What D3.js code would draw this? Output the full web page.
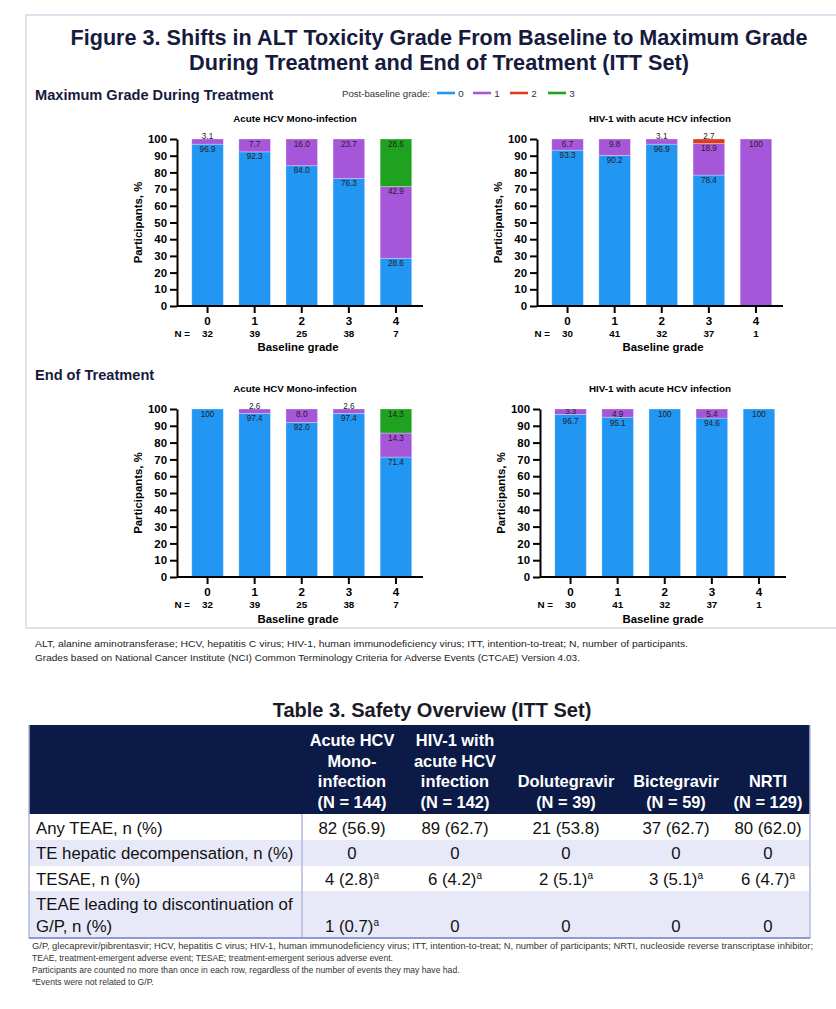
<!DOCTYPE html>
<html><head><meta charset="utf-8">
<script src="https://cdn.jsdelivr.net/npm/d3@7"></script>
<style>body{margin:0;background:#fff;} svg{display:block;}</style>
</head><body>
<svg id="c" width="836" height="1009"></svg>
<script>
// ---------------- DATA ----------------
const baselineGrades = ["0", "1", "2", "3", "4"];
const postGrades = ["0", "1", "2", "3"];
const yTicks = [0, 10, 20, 30, 40, 50, 60, 70, 80, 90, 100];
const nMono = [32, 39, 25, 38, 7];
const nHiv = [30, 41, 32, 37, 1];

// Maximum grade during treatment – Acute HCV mono-infection (% by post-baseline grade)
const maxMonoG0 = [96.9, 92.3, 84.0, 76.3, 28.6];
const maxMonoG1 = [3.1, 7.7, 16.0, 23.7, 42.9];
const maxMonoG2 = [0, 0, 0, 0, 0];
const maxMonoG3 = [0, 0, 0, 0, 28.6];
// Maximum grade during treatment – HIV-1 with acute HCV infection
const maxHivG0 = [93.3, 90.2, 96.9, 78.4, 0];
const maxHivG1 = [6.7, 9.8, 3.1, 18.9, 100];
const maxHivG2 = [0, 0, 0, 2.7, 0];
const maxHivG3 = [0, 0, 0, 0, 0];
// End of treatment – Acute HCV mono-infection
const eotMonoG0 = [100, 97.4, 92.0, 97.4, 71.4];
const eotMonoG1 = [0, 2.6, 8.0, 2.6, 14.3];
const eotMonoG2 = [0, 0, 0, 0, 0];
const eotMonoG3 = [0, 0, 0, 0, 14.3];
// End of treatment – HIV-1 with acute HCV infection
const eotHivG0 = [96.7, 95.1, 100, 94.6, 100];
const eotHivG1 = [3.3, 4.9, 0, 5.4, 0];
const eotHivG2 = [0, 0, 0, 0, 0];
const eotHivG3 = [0, 0, 0, 0, 0];

// Table 3
const tableGroups = ["Acute HCV Mono-infection", "HIV-1 with acute HCV infection", "Dolutegravir", "Bictegravir", "NRTI"];
const tableN = [144, 142, 39, 59, 129];
const rowLabels = ["Any TEAE, n (%)", "TE hepatic decompensation, n (%)", "TESAE, n (%)", "TEAE leading to discontinuation of G/P, n (%)"];
const anyTeaeN = [82, 89, 21, 37, 80];
const anyTeaePct = [56.9, 62.7, 53.8, 62.7, 62.0];
const hepDecompN = [0, 0, 0, 0, 0];
const tesaeN = [4, 6, 2, 3, 6];
const tesaePct = [2.8, 4.2, 5.1, 5.1, 4.7];
const discN = [1, 0, 0, 0, 0];
const discPct = [0.7, 0, 0, 0, 0];

// ---------------- STYLE / LAYOUT ----------------
const SANS = "'Liberation Sans', Arial, Helvetica, sans-serif";
const NAVY = "#161b3e";
const color = d3.scaleOrdinal().domain(postGrades).range(["#2196f3", "#a656d8", "#e0391c", "#1fa21f"]);
const svg = d3.select("#c").attr("font-family", SANS);

// figure frame
svg.append("path").attr("d", "M836,15H26V628H836").attr("fill", "none")
  .attr("stroke", "#d5d8ea").attr("stroke-width", 1.5);

// title
const titleLines = ["Figure 3. Shifts in ALT Toxicity Grade From Baseline to Maximum Grade",
                    "During Treatment and End of Treatment (ITT Set)"];
const titleW = [737, 500];
svg.selectAll("text.title").data(titleLines).join("text").attr("class", "title")
  .attr("x", 439).attr("y", (d, i) => 44.5 + i * 25).attr("text-anchor", "middle")
  .attr("font-size", 21.5).attr("font-weight", "bold").attr("fill", NAVY)
  .attr("textLength", (d, i) => titleW[i]).attr("lengthAdjust", "spacingAndGlyphs")
  .text(d => d);

// section headings
[["Maximum Grade During Treatment", 100], ["End of Treatment", 380]].forEach(([t, yy]) => {
  svg.append("text").attr("x", 35).attr("y", yy).attr("font-size", 14.6)
    .attr("font-weight", "bold").attr("fill", NAVY).text(t);
});

// legend
const legX = [437, 473, 510, 548];
const legend = svg.append("g");
legend.append("text").attr("x", 342).attr("y", 96.5).attr("font-size", 9.6).attr("fill", "#333")
  .text("Post-baseline grade:");
postGrades.forEach((k, i) => {
  legend.append("line").attr("x1", legX[i]).attr("x2", legX[i] + 18).attr("y1", 93).attr("y2", 93)
    .attr("stroke", color(k)).attr("stroke-width", 2.6);
  legend.append("text").attr("x", legX[i] + 24).attr("y", 96.8).attr("text-anchor", "middle")
    .attr("font-size", 9.8).attr("fill", "#333").text(k);
});

// panels
const panels = [
  {ax: 177, yTop: 139, yBot: 306, series: [maxMonoG0, maxMonoG1, maxMonoG2, maxMonoG3], ns: nMono,
   subtitle: "Acute HCV Mono-infection", subX: 295, subY: 121.5, nY: 336.5, btX: 298, btY: 350.5},
  {ax: 537, yTop: 139, yBot: 306, series: [maxHivG0, maxHivG1, maxHivG2, maxHivG3], ns: nHiv,
   subtitle: "HIV-1 with acute HCV infection", subX: 660, subY: 121.5, nY: 336.5, btX: 663, btY: 350.5},
  {ax: 177, yTop: 409, yBot: 577, series: [eotMonoG0, eotMonoG1, eotMonoG2, eotMonoG3], ns: nMono,
   subtitle: "Acute HCV Mono-infection", subX: 295, subY: 391.5, nY: 607.5, btX: 298, btY: 623},
  {ax: 540, yTop: 409, yBot: 577, series: [eotHivG0, eotHivG1, eotHivG2, eotHivG3], ns: nHiv,
   subtitle: "HIV-1 with acute HCV infection", subX: 660, subY: 391.5, nY: 607.5, btX: 663, btY: 623}
];

panels.forEach(cfg => {
  const g = svg.append("g");
  const x = d3.scaleBand().domain(baselineGrades).range([cfg.ax + 7, cfg.ax + 242.5])
    .paddingInner(0.33).paddingOuter(0.165);
  const y = d3.scaleLinear().domain([0, 100]).range([cfg.yBot, cfg.yTop]).clamp(true);
  const rows = baselineGrades.map((b, i) => {
    const r = {base: b};
    postGrades.forEach((k, j) => r[k] = cfg.series[j][i]);
    return r;
  });
  const stacked = d3.stack().keys(postGrades)(rows);

  g.selectAll("g.layer").data(stacked).join("g").attr("class", "layer")
    .attr("fill", d => color(d.key))
    .selectAll("rect").data(d => d.filter(s => s[1] - s[0] > 0.001)).join("rect")
    .attr("x", d => x(d.data.base)).attr("width", x.bandwidth())
    .attr("y", d => y(d[1])).attr("height", d => y(d[0]) - y(d[1]))
    .attr("stroke", "#ffffff").attr("stroke-opacity", 0.35).attr("stroke-width", 0.8);

  // value labels: tiny top segments above the bar, others just inside the segment top
  const segs = [];
  baselineGrades.forEach((b, i) => {
    const inside = [];
    stacked.forEach((layer, j) => {
      const v = cfg.series[j][i];
      if (v <= 0) return;
      const top = Math.min(layer[i][1], 100);
      if (v < 3.2) segs.push({b, v, ly: y(100) - 0.3, fs: 8.2});
      else if (v < 4) inside.push({b, v, ly: y(top) + 5, fs: 7.8});
      else inside.push({b, v, ly: y(top) + 7.6, fs: 8.2});
    });
    inside.sort((a, c) => a.ly - c.ly);
    inside.forEach((d, k) => {
      if (k > 0) d.ly = Math.max(d.ly, inside[k - 1].ly + 9.6);
      segs.push(d);
    });
  });
  g.selectAll("text.val").data(segs).join("text").attr("class", "val")
    .attr("x", d => x(d.b) + x.bandwidth() / 2)
    .attr("y", d => d.ly)
    .attr("text-anchor", "middle").attr("font-size", d => d.fs)
    .attr("fill", "#222")
    .text(d => d.v === 100 ? "100" : d.v.toFixed(1));

  // y axis
  const ya = g.append("g").attr("transform", `translate(${cfg.ax},0)`)
    .call(d3.axisLeft(y).tickValues(yTicks).tickSize(7).tickSizeOuter(0).tickPadding(3));
  ya.select(".domain").attr("stroke", "#000").attr("stroke-width", 2);
  ya.selectAll(".tick line").attr("stroke", "#000").attr("stroke-width", 2);
  ya.selectAll(".tick text").attr("font-family", SANS).attr("font-size", 11.4)
    .attr("font-weight", "bold").attr("fill", "#000");

  // x axis
  const xa = g.append("g").attr("transform", `translate(0,${cfg.yBot})`)
    .call(d3.axisBottom(x).tickSize(7).tickSizeOuter(0).tickPadding(4));
  xa.select(".domain").attr("d", `M${cfg.ax},0H${cfg.ax + 246}`).attr("stroke", "#000").attr("stroke-width", 2);
  xa.selectAll(".tick line").attr("stroke", "#000").attr("stroke-width", 2);
  xa.selectAll(".tick text").attr("font-family", SANS).attr("font-size", 11.6)
    .attr("font-weight", "bold").attr("fill", "#000");

  // N row
  g.append("text").attr("x", cfg.ax + 13).attr("y", cfg.nY).attr("text-anchor", "end")
    .attr("font-size", 9.8).attr("font-weight", "bold").text("N =");
  g.selectAll("text.n").data(cfg.ns).join("text").attr("class", "n")
    .attr("x", (d, i) => x(baselineGrades[i]) + x.bandwidth() / 2).attr("y", cfg.nY)
    .attr("text-anchor", "middle").attr("font-size", 9.8).attr("font-weight", "bold").text(d => d);

  // titles
  g.append("text").attr("x", cfg.btX).attr("y", cfg.btY).attr("text-anchor", "middle")
    .attr("font-size", 11.4).attr("font-weight", "bold").text("Baseline grade");
  g.append("text").attr("x", cfg.subX).attr("y", cfg.subY).attr("text-anchor", "middle")
    .attr("font-size", 9.8).attr("font-weight", "bold").text(cfg.subtitle);
  g.append("text").attr("transform", `translate(${cfg.ax - 39},${(cfg.yTop + cfg.yBot) / 2}) rotate(-90)`)
    .attr("text-anchor", "middle").attr("dy", "0.35em")
    .attr("font-size", 11.4).attr("font-weight", "bold").text("Participants, %");
});

// figure footnotes
const figNotes = ["ALT, alanine aminotransferase; HCV, hepatitis C virus; HIV-1, human immunodeficiency virus; ITT, intention-to-treat; N, number of participants.",
  "Grades based on National Cancer Institute (NCI) Common Terminology Criteria for Adverse Events (CTCAE) Version 4.03."];
const figNoteW = [653, 545];
svg.selectAll("text.fn").data(figNotes).join("text").attr("class", "fn")
  .attr("x", 35).attr("y", (d, i) => 646.5 + i * 14).attr("font-size", 9.4).attr("fill", "#222")
  .attr("textLength", (d, i) => figNoteW[i]).attr("lengthAdjust", "spacingAndGlyphs").text(d => d);

// ---------------- TABLE ----------------
svg.append("text").attr("x", 432).attr("y", 717).attr("text-anchor", "middle")
  .attr("font-size", 20).attr("font-weight", "bold").attr("fill", "#1a1a2a")
  .text("Table 3. Safety Overview (ITT Set)");

const tX0 = 29, tX1 = 810, colDiv = 302;
const colCenters = [352, 455, 566, 676, 768];
const headTop = 725, headBot = 814;
const rowTops = [814, 840, 866, 891], rowBots = [840, 866, 891, 938];
const rowFill = ["#ffffff", "#e7e9f8", "#ffffff", "#e7e9f8"];
const BORDER = "#b3bbe0";

svg.append("rect").attr("x", tX0).attr("y", headTop).attr("width", tX1 - tX0).attr("height", headBot - headTop)
  .attr("fill", "#0b1a46");
rowTops.forEach((t, i) => {
  svg.append("rect").attr("x", tX0).attr("y", t).attr("width", tX1 - tX0).attr("height", rowBots[i] - t)
    .attr("fill", rowFill[i]);
});
svg.append("path").attr("d", `M${tX0},${headTop}V938H${tX1}V${headTop}M${colDiv},${headBot}V938`)
  .attr("fill", "none").attr("stroke", BORDER).attr("stroke-width", 1.5);
svg.append("line").attr("x1", tX0).attr("x2", tX1).attr("y1", 938).attr("y2", 938)
  .attr("stroke", "#8e9bd3").attr("stroke-width", 2);

// header
const headerWrap = [["Acute HCV", "Mono-", "infection"], ["HIV-1 with", "acute HCV", "infection"],
                    ["Dolutegravir"], ["Bictegravir"], ["NRTI"]];
const headBase = [746, 767, 787, 808];
tableGroups.forEach((grp, c) => {
  const lines = headerWrap[c].concat([`(N = ${tableN[c]})`]);
  lines.forEach((ln, i) => {
    svg.append("text").attr("x", colCenters[c]).attr("y", headBase[4 - lines.length + i])
      .attr("text-anchor", "middle").attr("font-size", 16.4).attr("font-weight", "bold")
      .attr("fill", "#ffffff").text(ln);
  });
});

// body
const labelWrap = [["Any TEAE, n (%)"], ["TE hepatic decompensation, n (%)"], ["TESAE, n (%)"],
                   ["TEAE leading to discontinuation of", "G/P, n (%)"]];
const rowBase = [[834], [859], [885], [910, 932]];
rowLabels.forEach((lab, r) => {
  labelWrap[r].forEach((ln, i) => {
    svg.append("text").attr("x", 36).attr("y", rowBase[r][i]).attr("font-size", 16.8)
      .attr("fill", "#111").text(ln);
  });
});
const cellData = [
  anyTeaeN.map((n, i) => ({txt: n === 0 ? "0" : `${n} (${anyTeaePct[i].toFixed(1)})`, sup: false})),
  hepDecompN.map(n => ({txt: String(n), sup: false})),
  tesaeN.map((n, i) => ({txt: n === 0 ? "0" : `${n} (${tesaePct[i].toFixed(1)})`, sup: n > 0})),
  discN.map((n, i) => ({txt: n === 0 ? "0" : `${n} (${discPct[i].toFixed(1)})`, sup: n > 0}))
];
cellData.forEach((row, r) => {
  const yb = rowBase[r][rowBase[r].length - 1];
  row.forEach((cell, c) => {
    const t = svg.append("text").attr("x", colCenters[c]).attr("y", yb).attr("text-anchor", "middle")
      .attr("font-size", 16.8).attr("fill", "#111");
    t.append("tspan").text(cell.txt);
    if (cell.sup) t.append("tspan").attr("font-size", 10).attr("dy", -6).text("a");
  });
});

// table footnotes
const tabNotes = ["G/P, glecaprevir/pibrentasvir; HCV, hepatitis C virus; HIV-1, human immunodeficiency virus; ITT, intention-to-treat; N, number of participants; NRTI, nucleoside reverse transcriptase inhibitor;",
  "TEAE, treatment-emergent adverse event; TESAE; treatment-emergent serious adverse event.",
  "Participants are counted no more than once in each row, regardless of the number of events they may have had."];
svg.selectAll("text.tn").data(tabNotes).join("text").attr("class", "tn")
  .attr("x", 32).attr("y", (d, i) => 949 + i * 12).attr("font-size", 8.6).attr("fill", "#333")
  .each(function (d, i) {
    if (i === 0) d3.select(this).attr("textLength", 781).attr("lengthAdjust", "spacingAndGlyphs");
  })
  .text(d => d);
const lastNote = svg.append("text").attr("x", 32).attr("y", 985).attr("font-size", 8.6).attr("fill", "#333");
lastNote.append("tspan").attr("font-size", 6).attr("dy", -3).text("a");
lastNote.append("tspan").attr("dy", 3).text("Events were not related to G/P.");
</script>
</body></html>
